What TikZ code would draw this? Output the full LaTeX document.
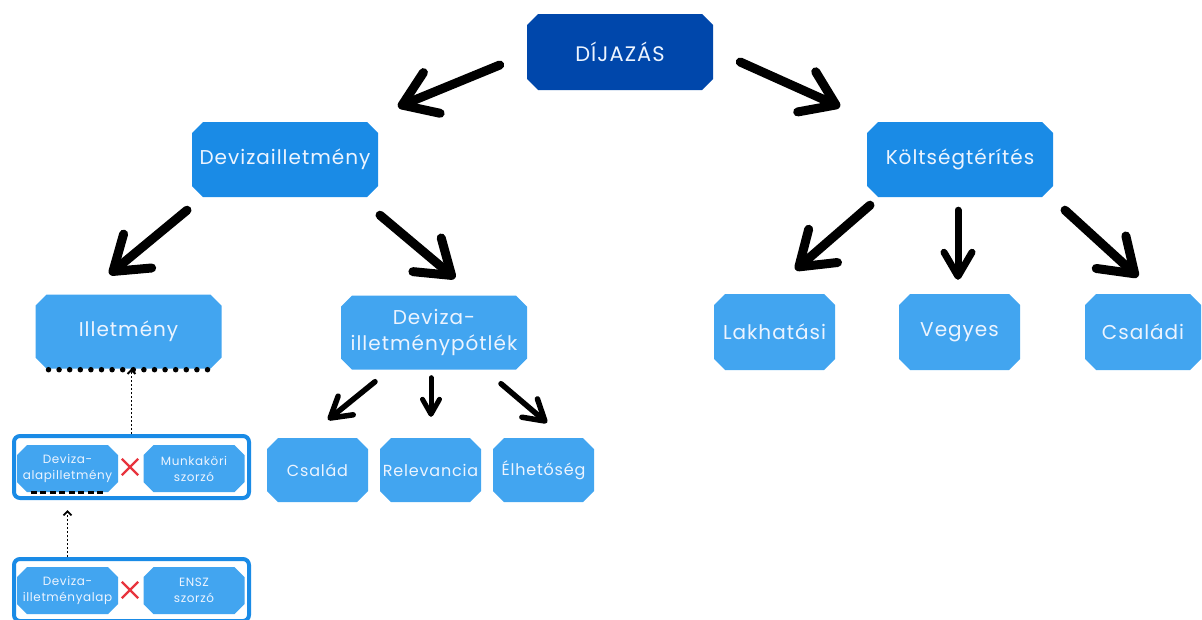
\documentclass[tikz,border=0pt]{standalone}
\usepackage{fontspec}
\newfontfamily\boxfont[LetterSpace=5]{Poppins}
\usetikzlibrary{arrows.meta,shapes.misc,calc}

\definecolor{darkblue}{RGB}{0,71,171}
\definecolor{midblue}{RGB}{26,139,230}
\definecolor{lightblue}{RGB}{66,165,240}
\definecolor{boxtext}{RGB}{236,244,255}
\definecolor{crossred}{RGB}{232,52,62}

\begin{document}
\begin{tikzpicture}[x=1pt,y=-1pt,
  cut/.store in=\cutlen, cut=11pt,
  box/.style={rectangle, inner sep=0pt, text=boxtext, align=center,
              font=\boxfont\fontsize{20}{26}\selectfont,
              path picture={\fill[#1]
                ([xshift=\cutlen]path picture bounding box.north west)
                -- ([xshift=-\cutlen]path picture bounding box.north east)
                -- ([yshift=-\cutlen]path picture bounding box.north east)
                -- ([yshift=\cutlen]path picture bounding box.south east)
                -- ([xshift=-\cutlen]path picture bounding box.south east)
                -- ([xshift=\cutlen]path picture bounding box.south west)
                -- ([yshift=\cutlen]path picture bounding box.south west)
                -- ([yshift=-\cutlen]path picture bounding box.north west)
                -- cycle;}},
  topbox/.style={box=darkblue, minimum width=186pt, minimum height=76pt,
                 font=\boxfont\fontsize{21}{26}\selectfont},
  midbox/.style={box=midblue, minimum width=186pt, minimum height=75pt},
  subbox/.style={box=lightblue, minimum width=186pt, minimum height=74pt},
  leafbox/.style={box=lightblue, minimum width=121pt, minimum height=76pt},
  smallbox/.style={box=lightblue, minimum width=101pt, minimum height=64pt,
                   font=\boxfont\fontsize{16}{21}\selectfont},
  tinybox/.style={box=lightblue, cut=10pt, minimum width=101pt, minimum height=47pt,
                  font=\boxfont\fontsize{12}{16}\selectfont},
  frame/.style={draw=midblue, line width=4pt, rounded corners=6pt, fill=white,
                minimum width=235pt, minimum height=62pt},
  crossmark/.style={cross out, draw=crossred, line width=2.4pt, minimum size=14pt},
  bigarrow/.style={line width=9pt, line cap=round,
                   -{Straight Barb[length=32pt,width=44pt,round]}},
  midarrow/.style={line width=7pt, line cap=round,
                   -{Straight Barb[length=24pt,width=28pt,round]}},
  smallarrow/.style={line width=5.5pt, line cap=round,
                     -{Straight Barb[length=20pt,width=24pt,round]}},
  tinyarrow/.style={line width=5pt, line cap=round,
                    -{Straight Barb[length=15pt,width=17pt,round]}},
  dotline/.style={line width=5.5pt, line cap=round, dash pattern=on 0pt off 10.6pt},
  dashline/.style={line width=3pt, dash pattern=on 6pt off 3.5pt},
  dotarrow/.style={line width=1.8pt, dash pattern=on 2pt off 2pt,
                   -{Straight Barb[length=4pt,width=8pt]}}]

  \useasboundingbox (0,0) rectangle (1202,619);

  % top level
  \node[topbox] (dij) at (620,52) {DÍJAZÁS};
  \node[midbox] (dev) at (285,159.5) {Devizailletmény};
  \node[midbox] (kolt) at (960,159.5) {Költségtérítés};

  % second level
  \node[subbox] (ill) at (128.5,331.5) {Illetmény};
  \node[subbox] (pot) at (434,332.5) {Deviza-\\illetménypótlék};
  \node[leafbox] (lak) at (774.5,332) {Lakhatási};
  \node[leafbox] (veg) at (959.5,332) {Vegyes};
  \node[leafbox, minimum width=116pt] (csi) at (1143,332) {Családi};

  % third level
  \node[smallbox] (csa) at (317.5,470) {Család};
  \node[smallbox] (rel) at (430.5,470) {Relevancia};
  \node[smallbox] (elh) at (543.5,470) {Élhetőség};

  % calculation frames
  \node[frame] (fr1) at (131.5,467) {};
  \node[tinybox] (dal) at (67.5,468.5) {Deviza-\\alapilletmény};
  \node[tinybox] (msz) at (194,468.5) {Munkaköri\\szorzó};
  \node[crossmark] (x1) at (130,467) {};

  \node[frame] (fr2) at (131.5,590) {};
  \node[tinybox] (dia) at (67.5,590.5) {Deviza-\\illetményalap};
  \node[tinybox] (ens) at (194,590.5) {ENSZ\\szorzó};
  \node[crossmark] (x2) at (130,590) {};

  % arrows
  \draw[bigarrow] ($(dij.west)+(-27,13)$) -- ($(dev.north)+(113,-15)$);
  \draw[bigarrow] ($(dij.east)+(27,10)$) -- ($(kolt.north)+(-120,-15)$);
  \draw[bigarrow] ($(dev.south)+(-98,13)$) -- ($(ill.north)+(-19,-20)$);
  \draw[bigarrow] ($(dev.south)+(95,18)$) -- ($(pot.north)+(21,-17)$);
  \draw[bigarrow] ($(kolt.south)+(-90,8)$) -- ($(lak.north)+(21,-24)$);
  \draw[midarrow] ($(kolt.south)+(-2,13)$) -- ($(veg.north)+(-1.5,-14)$);
  \draw[bigarrow] ($(kolt.south)+(105,13)$) -- ($(csi.north)+(-5,-17)$);
  \draw[smallarrow] ($(pot.south)+(-59,12)$) -- ($(csa.north)+(10.5,-18)$);
  \draw[tinyarrow] ($(pot.south)+(-3,8)$) -- ($(rel.north)+(0.5,-21)$);
  \draw[smallarrow] ($(pot.south)+(67,14)$) -- ($(elh.north)+(3.5,-15)$);

  % markers and links
  \draw[dotline] ($(ill.south)+(-80,1)$) -- ($(ill.south)+(80,1)$);
  \draw[dashline] ($(dal.south)+(-37,0)$) -- ($(dal.south)+(37,0)$);
  \draw[dotarrow] (fr1.north) -- (fr1.north |- ill.south);
  \draw[dotarrow, shorten >=10pt] (dia.north |- fr2.north) -- (dia.north |- fr1.south);
\end{tikzpicture}
\end{document}
